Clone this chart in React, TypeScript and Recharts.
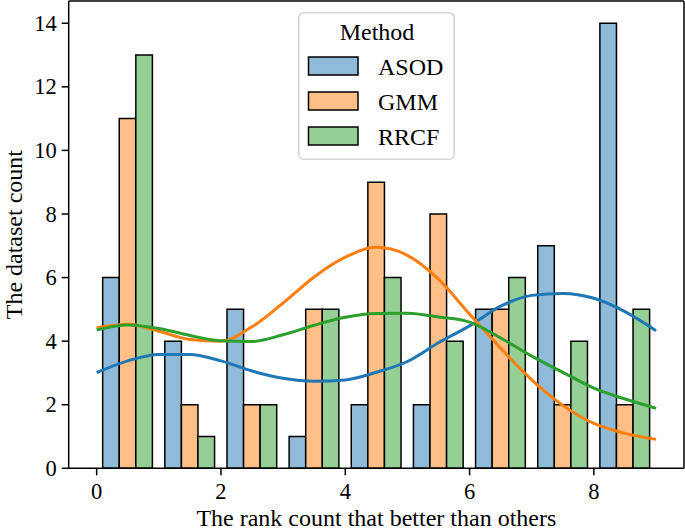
import React from "react";
import { ComposedChart, Bar, Line, XAxis, YAxis, Legend } from "recharts";

// histogram bins (width 1, seaborn dodge with shrink 0.8)
const binCenters = [0.5, 1.5, 2.5, 3.5, 4.5, 5.5, 6.5, 7.5, 8.5];
const asodCounts = [6, 4, 5, 1, 2, 2, 5, 7, 14];
const gmmCounts = [11, 2, 2, 5, 9, 8, 5, 2, 2];
const rrcfCounts = [13, 1, 2, 5, 6, 4, 6, 4, 5];

// kde curves
const kdeX = [0, 0.5, 1, 1.5, 2, 2.5, 3, 3.5, 4, 4.5, 5, 5.5, 6, 6.5, 7, 7.5, 8, 8.5, 9];
const asodKde = [3.01, 3.38, 3.58, 3.58, 3.38, 3.06, 2.83, 2.74, 2.78, 3.02, 3.36, 3.95, 4.48, 5.1, 5.44, 5.5, 5.35, 4.93, 4.33];
const gmmKde = [4.42, 4.53, 4.31, 4.05, 4.0, 4.45, 5.2, 6.02, 6.64, 6.95, 6.7, 5.95, 4.85, 3.78, 2.78, 1.98, 1.41, 1.1, 0.91];
const rrcfKde = [4.35, 4.51, 4.4, 4.18, 4.01, 3.99, 4.2, 4.5, 4.75, 4.87, 4.88, 4.76, 4.6, 4.1, 3.53, 3.02, 2.52, 2.18, 1.89];

const xTicks = [0, 2, 4, 6, 8];
const yTicks = [0, 2, 4, 6, 8, 10, 12, 14];

const methods = ["ASOD", "GMM", "RRCF"];
const fills = ["#8fbbd9", "#ffbf86", "#95cf95"];
const lineColors = ["#1f77b4", "#ff7f0e", "#2ca02c"];

const FONT = "Liberation Serif";
const serif = { fontFamily: FONT };
const TICK_SIZE = 22.5;

const bins = binCenters.map((x, i) => ({
  x,
  ASOD: asodCounts[i],
  GMM: gmmCounts[i],
  RRCF: rrcfCounts[i],
}));

const toPoints = (ys: number[]) => kdeX.map((x, i) => ({ x, y: ys[i] }));
const kdes = [toPoints(asodKde), toPoints(gmmKde), toPoints(rrcfKde)];

const XTick = (props: any) => (
  <text x={props.x} y={props.y + 15} textAnchor="middle" fontSize={TICK_SIZE} style={serif} fill="#000">
    {props.payload.value}
  </text>
);

const YTick = (props: any) => (
  <text x={props.x} y={props.y + 7.6} textAnchor="end" fontSize={TICK_SIZE} style={serif} fill="#000">
    {props.payload.value}
  </text>
);

const XLabel = (props: any) => {
  const { x, y, width } = props.viewBox;
  return (
    <text x={x + width / 2} y={y + 57.4} textAnchor="middle" fontSize={24} style={serif} fill="#000">
      The rank count that better than others
    </text>
  );
};

const YLabel = (props: any) => {
  const { y, height } = props.viewBox;
  const cx = 21.8;
  const cy = y + height / 2;
  return (
    <text x={cx} y={cy} transform={`rotate(-90, ${cx}, ${cy})`} textAnchor="middle" fontSize={24} style={serif} fill="#000">
      The dataset count
    </text>
  );
};

const MethodLegend = () => (
  <svg width={157} height={148} style={{ display: "block", ...serif }}>
    <rect x={0.75} y={0.75} width={155.5} height={146.5} rx={5} fill="rgba(255,255,255,0.8)" stroke="#d4d4d4" strokeWidth={1.5} />
    <text x={79} y={28} textAnchor="middle" fontSize={24} style={serif} fill="#000">
      Method
    </text>
    {methods.map((m, i) => (
      <g key={m}>
        <rect x={10.5} y={45 + i * 35} width={49.5} height={18} fill={fills[i]} stroke="#000" strokeWidth={1.5} />
        <text x={80} y={63 + i * 35} fontSize={24} style={serif} fill="#000">
          {m}
        </text>
      </g>
    ))}
  </svg>
);

const axisStroke = { stroke: "#000", strokeWidth: 1.5 };

export default function App() {
  return (
    <div style={{ position: "absolute", left: 0, top: 0, width: 685, height: 531, background: "#fff", ...serif }}>
      <ComposedChart width={685} height={531} data={bins} margin={{ top: 0, right: 0, bottom: 0, left: 0 }} barGap={0}>
        <XAxis
          dataKey="x"
          type="number"
          domain={[-0.45, 9.45]}
          ticks={xTicks}
          allowDataOverflow
          height={62.7}
          tickSize={7}
          tickMargin={9}
          axisLine={axisStroke}
          tickLine={axisStroke}
          tick={XTick}
          label={{ content: XLabel }}
        />
        <YAxis
          type="number"
          domain={[0, 14.7]}
          ticks={yTicks}
          allowDataOverflow
          width={68.7}
          tickSize={7}
          tickMargin={5}
          axisLine={axisStroke}
          tickLine={axisStroke}
          tick={YTick}
          label={{ content: YLabel }}
        />
        <XAxis
          xAxisId="top"
          orientation="top"
          dataKey="x"
          type="number"
          domain={[-0.45, 9.45]}
          allowDataOverflow
          height={1}
          tick={false}
          tickLine={false}
          axisLine={axisStroke}
        />
        <YAxis
          yAxisId="right"
          orientation="right"
          type="number"
          domain={[0, 14.7]}
          allowDataOverflow
          width={1}
          tick={false}
          tickLine={false}
          axisLine={axisStroke}
        />
        <Legend
          layout="vertical"
          align="center"
          verticalAlign="middle"
          content={MethodLegend}
          wrapperStyle={{ left: 298, top: 12, width: 157, height: 148 }}
        />
        {methods.map((m, i) => (
          <Bar key={m} dataKey={m} barSize={16.58} fill={fills[i]} stroke="#000" strokeWidth={1.5} isAnimationActive={false} />
        ))}
        {methods.map((m, i) => (
          <Line
            key={`kde-${m}`}
            xAxisId="top"
            yAxisId="right"
            data={kdes[i]}
            dataKey="y"
            type="monotone"
            stroke={lineColors[i]}
            strokeWidth={3}
            dot={false}
            activeDot={false}
            legendType="none"
            isAnimationActive={false}
          />
        ))}
      </ComposedChart>
    </div>
  );
}
